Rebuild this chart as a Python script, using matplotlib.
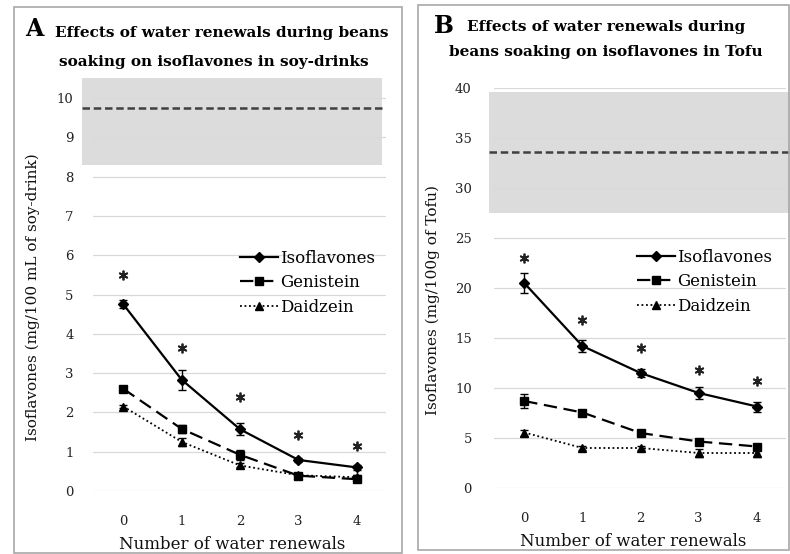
import numpy as np
import matplotlib
matplotlib.use('Agg')
import matplotlib.pyplot as plt
from matplotlib.patches import Rectangle

plt.rcParams['font.family'] = ['DejaVu Serif']

# Data
renewals = [0, 1, 2, 3, 4]

# Panel A: soy-drinks (mg/100 mL)
iso_a = [4.75, 2.83, 1.57, 0.79, 0.60]
gen_a = [2.60, 1.58, 0.92, 0.39, 0.30]
dai_a = [2.15, 1.25, 0.65, 0.40, 0.35]
iso_a_err = [0.10, 0.25, 0.15, 0.05, 0.06]
gen_a_err = [0.08, 0.10, 0.12, 0.05, 0.06]
dai_a_err = [0.05, 0.10, 0.05, 0.05, 0.05]
star_a = [5.5, 3.65, 2.4, 1.42, 1.14]
ref_a = [8.3, 9.75, 10.5]  # band low, mean, band high

# Panel B: Tofu (mg/100 g)
iso_b = [20.5, 14.2, 11.5, 9.5, 8.15]
gen_b = [8.7, 7.55, 5.5, 4.65, 4.15]
dai_b = [5.55, 4.0, 4.0, 3.5, 3.5]
iso_b_err = [1.0, 0.6, 0.4, 0.6, 0.5]
gen_b_err = [0.7, 0.3, 0.2, 0.2, 0.3]
dai_b_err = [0.3, 0.2, 0.2, 0.4, 0.4]
star_b = [23.0, 16.8, 14.0, 11.8, 10.7]
ref_b = [27.5, 33.6, 39.6]

W, H = 790, 554
fig = plt.figure(figsize=(W / 100, H / 100), dpi=100)


def px_rect(left, top, right, bottom):
    return [left / W, 1 - bottom / H, (right - left) / W, (bottom - top) / H]


# panel frames
for l, t, r, b in [(14, 7, 402, 553), (418, 5, 789, 550)]:
    fig.patches.append(Rectangle((l / W, 1 - b / H), (r - l) / W, (b - t) / H,
                                 transform=fig.transFigure, fill=False,
                                 edgecolor='#a8a8a8', lw=1.2))


def draw_panel(ax, iso, gen, dai, iso_e, gen_e, dai_e, stars, ref, ymax, yticks,
               ylabel, band_x, legend_anchor, ypad):
    ax.set_xlim(-0.52, 4.5)
    ax.set_ylim(0, ymax)
    for yt in yticks:
        ax.axhline(yt, color='#d9d9d9', lw=0.9, zorder=1)
    ax.add_patch(Rectangle((band_x[0], ref[0]), band_x[1] - band_x[0], ref[2] - ref[0],
                           facecolor='#dcdcdc', edgecolor='none', clip_on=False, zorder=0))
    ax.plot(band_x, [ref[1], ref[1]], color='#404040', ls=(0, (3, 1.5)), lw=1.8,
            clip_on=False, zorder=2)

    # error bars
    for vals, errs in [(iso, iso_e), (gen, gen_e), (dai, dai_e)]:
        ax.errorbar(renewals, vals, yerr=errs, fmt='none', ecolor='black',
                    elinewidth=1, capsize=3, zorder=3)
    ax.plot(renewals, iso, color='black', ls='-', lw=1.6, marker='D', ms=5,
            label='Isoflavones', zorder=4)
    ax.plot(renewals, gen, color='black', ls=(0, (6, 3)), lw=1.6, marker='s', ms=6,
            label='Genistein', zorder=4)
    ax.plot(renewals, dai, color='black', ls=(0, (1, 1.5)), lw=1.3, marker='^', ms=6,
            label='Daidzein', zorder=4)
    ax.plot(renewals, stars, ls='none', marker=(6, 2, 0), ms=7, mew=1.3, color='#222222', zorder=4)

    for s in ax.spines.values():
        s.set_visible(False)
    ax.set_yticks(yticks)
    ax.set_xticks(renewals)
    ax.tick_params(length=0, labelsize=9.5, colors='#222222')
    ax.tick_params(axis='y', pad=ypad)
    ax.tick_params(axis='x', pad=17)
    ax.set_xlabel('Number of water renewals', fontsize=12, labelpad=6, color='#111111')
    ax.set_ylabel(ylabel, fontsize=11, color='#111111')
    ax.legend(loc='upper right', bbox_to_anchor=legend_anchor, frameon=False, fontsize=12,
              handlelength=2.3, handletextpad=0.1, labelspacing=0.45, borderaxespad=0)


ax_a = fig.add_axes(px_rect(93, 70.5, 386, 491))
draw_panel(ax_a, iso_a, gen_a, dai_a, iso_a_err, gen_a_err, dai_a_err, star_a, ref_a,
           10.7, list(range(0, 11)), 'Isoflavones (mg/100 mL of soy-drink)',
           [-0.70, 4.44], (0.985, 0.59), 14)
ax_a.yaxis.set_label_coords(-0.18, 0.46)
ax_a.xaxis.label.set_x(0.475)

ax_b = fig.add_axes(px_rect(494, 88, 786, 488))
draw_panel(ax_b, iso_b, gen_b, dai_b, iso_b_err, gen_b_err, dai_b_err, star_b, ref_b,
           40, list(range(0, 41, 5)), 'Isoflavones (mg/100g of Tofu)',
           [-0.60, 4.57], (0.975, 0.615), 16)
ax_b.yaxis.set_label_coords(-0.185, 0.47)
ax_b.xaxis.label.set_x(0.478)

# panel titles
fig.text(25 / W, 1 - 29 / H, 'A', fontsize=17, fontweight='bold', va='center', ha='left')
fig.text(222 / W, 1 - 33 / H, 'Effects of water renewals during beans',
         fontsize=11, fontweight='bold', va='center', ha='center')
fig.text(214 / W, 1 - 62 / H, 'soaking on isoflavones in soy-drinks',
         fontsize=11, fontweight='bold', va='center', ha='center')
fig.text(434 / W, 1 - 26 / H, 'B', fontsize=17, fontweight='bold', va='center', ha='left')
fig.text(606 / W, 1 - 27 / H, 'Effects of water renewals during',
         fontsize=11, fontweight='bold', va='center', ha='center')
fig.text(606 / W, 1 - 52 / H, 'beans soaking on isoflavones in Tofu',
         fontsize=11, fontweight='bold', va='center', ha='center')

fig.savefig('out.png', dpi=100, facecolor='white')
